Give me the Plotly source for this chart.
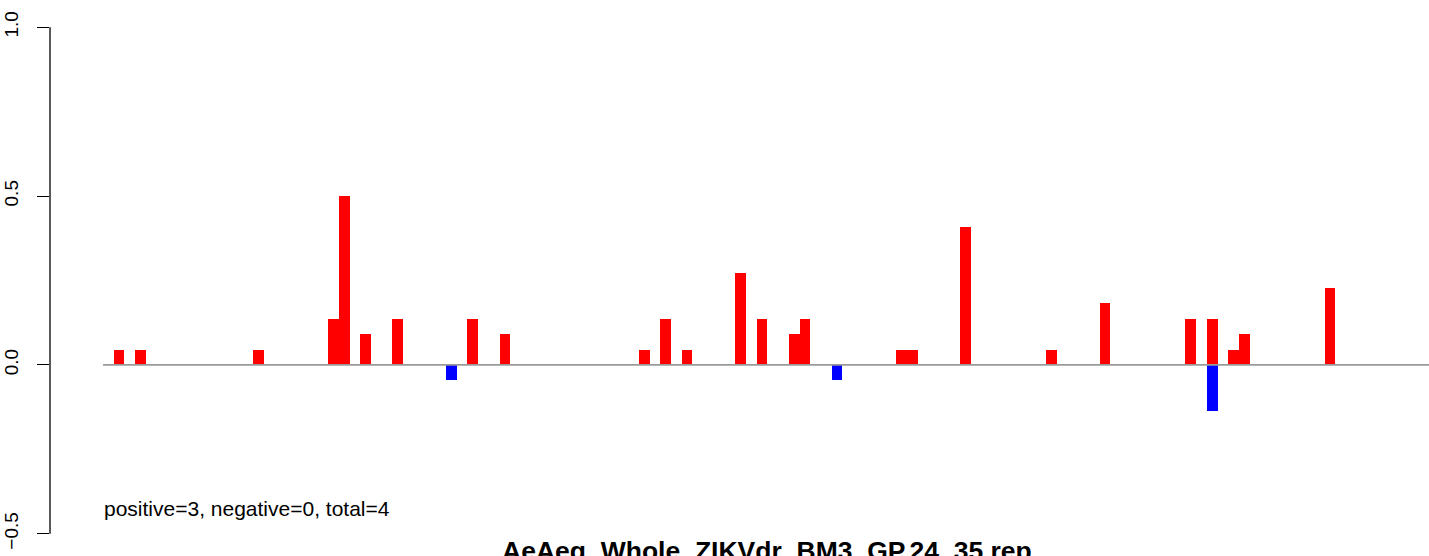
import plotly.graph_objects as go

# ---- data ----
n_slots = 124
pos_slots = [1, 3, 14, 21, 22, 24, 27, 34, 37, 50, 52, 54, 59, 61, 64, 65,
             74, 75, 80, 88, 93, 101, 103, 105, 106, 114]
pos_values = [0.045, 0.045, 0.045, 0.136, 0.5, 0.091, 0.136, 0.136, 0.091,
              0.045, 0.136, 0.045, 0.273, 0.136, 0.091, 0.136,
              0.045, 0.045, 0.409, 0.045, 0.182, 0.136, 0.136, 0.045, 0.091, 0.227]
neg_slots = [32, 68, 103]
neg_values = [-0.045, -0.045, -0.136]

y_ticks = [-0.5, 0.0, 0.5, 1.0]
y_ticktext = ["\u22120.5", "0.0", "0.5", "1.0"]

title_text = "AeAeg_Whole_ZIKVdr_BM3_GP.24_35.rep"
summary_text = "positive=3, negative=0, total=4"

FONT = "Liberation Sans, Arial, Helvetica, sans-serif"

fig = go.Figure()
fig.add_trace(go.Bar(x=[s + 0.5 for s in pos_slots], y=pos_values, width=1,
                     marker=dict(color="#FF0000", line=dict(width=0)),
                     showlegend=False, hoverinfo="skip"))
fig.add_trace(go.Bar(x=[s + 0.5 for s in neg_slots], y=neg_values, width=1,
                     marker=dict(color="#0000FF", line=dict(width=0)),
                     showlegend=False, hoverinfo="skip"))

# zero baseline
fig.add_shape(type="line", x0=0, x1=n_slots, y0=0, y1=0, xref="x", yref="y",
              line=dict(color="#9a9a9a", width=1.6), layer="above")
# y axis line (only across tick span, like R)
fig.add_shape(type="line", x0=0, x1=0, y0=y_ticks[0], y1=y_ticks[-1],
              xref="paper", yref="y", line=dict(color="black", width=1.3))

fig.add_annotation(x=-0.08, y=-0.425, xref="x", yref="y", text=summary_text,
                   showarrow=False, xanchor="left", yanchor="middle",
                   font=dict(family=FONT, size=21, color="black"))
fig.add_annotation(x=n_slots / 2, y=0.036, xref="x", yref="paper",
                   text="<b>" + title_text + "</b>", showarrow=False,
                   xanchor="center", yanchor="top",
                   font=dict(family=FONT, size=26.5, color="black"))

fig.update_layout(
    width=1429, height=556,
    margin=dict(l=50, r=0, t=7, b=2),
    paper_bgcolor="white", plot_bgcolor="white",
    barmode="relative", bargap=0,
    xaxis=dict(range=[-4.95, 123.73], showgrid=False, zeroline=False,
               showticklabels=False, ticks="", showline=False, fixedrange=True),
    yaxis=dict(range=[-0.56, 1.06], showgrid=False, zeroline=False,
               tickmode="array", tickvals=y_ticks, ticktext=y_ticktext,
               ticks="outside", ticklen=12, tickwidth=1.3, tickcolor="black",
               tickangle=-90, ticklabelstandoff=11, automargin=False,
               tickfont=dict(family=FONT, size=19, color="black"),
               showline=False, fixedrange=True),
    font=dict(family=FONT),
)

fig.write_html("out.html", config={"displayModeBar": False},
               post_script="document.body.style.margin='0';document.body.style.padding='0';")
